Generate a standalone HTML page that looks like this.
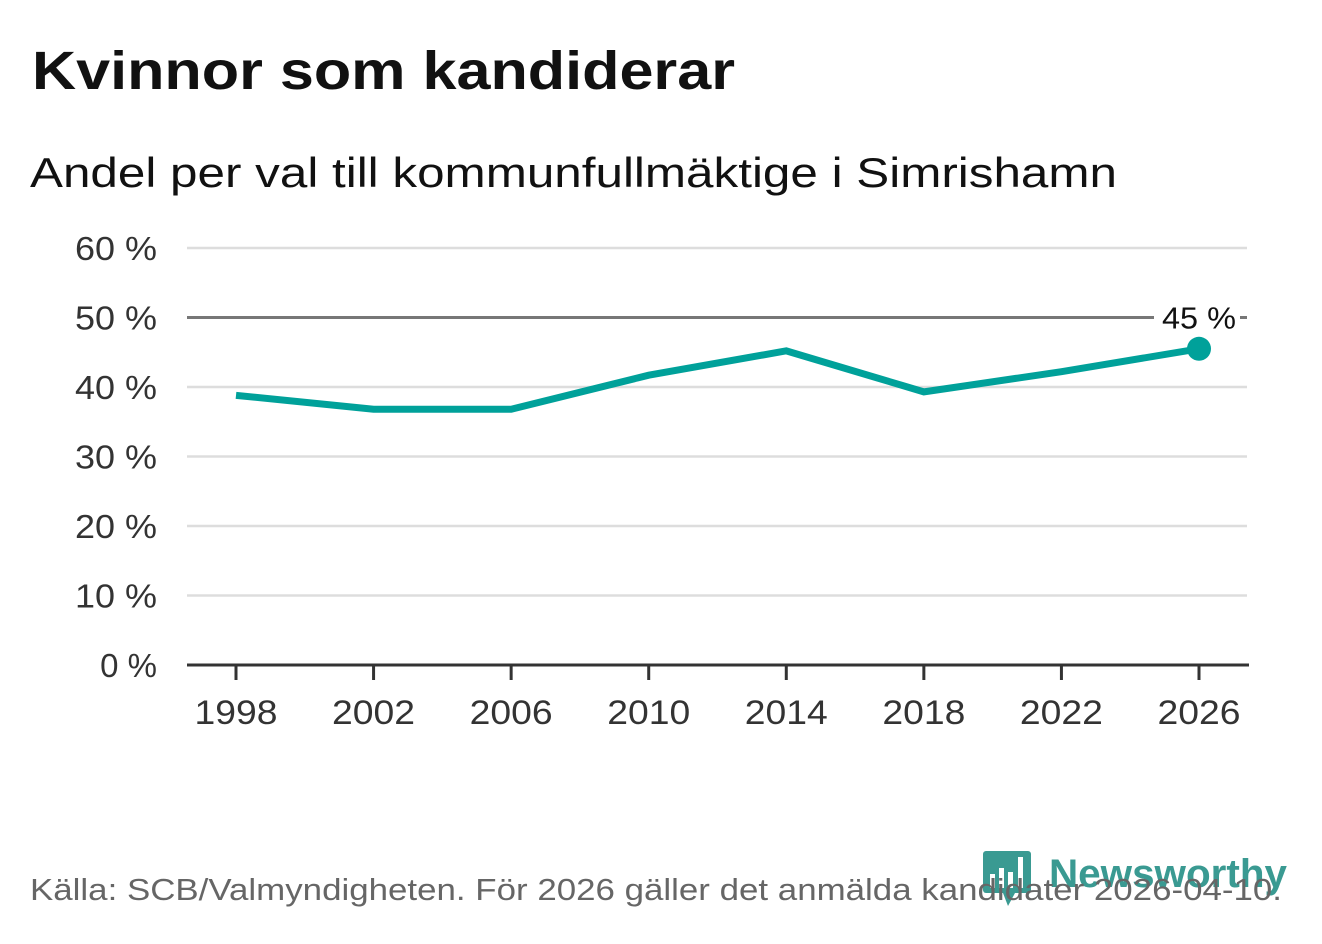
<!DOCTYPE html>
<html><head><meta charset="utf-8"><style>
body{margin:0;background:#fff;width:1322px;height:939px;overflow:hidden;font-family:"Liberation Sans","DejaVu Sans",sans-serif}
</style></head><body>
<svg width="1322" height="939" xmlns="http://www.w3.org/2000/svg">
<text x="32" y="89" font-size="54" font-weight="bold" fill="#111" textLength="703" lengthAdjust="spacingAndGlyphs">Kvinnor som kandiderar</text>
<text x="30" y="187" font-size="42" fill="#111" textLength="1087" lengthAdjust="spacingAndGlyphs">Andel per val till kommunfullmäktige i Simrishamn</text>
<g id="grid"></g><g id="marks"></g>
<g>
<rect x="983" y="851" width="48" height="42" rx="3" fill="#3a9a92"/>
<path d="M1003 893 L1015 893 L1008 906 Z" fill="#3a9a92"/>
<rect x="990" y="874" width="5" height="14" fill="#fff"/><rect x="999" y="868" width="5" height="20" fill="#fff"/><rect x="1008" y="872" width="5" height="16" fill="#fff"/><rect x="1018" y="857" width="5" height="31" fill="#fff"/>
<text x="1049" y="887" font-size="40" font-weight="bold" fill="#3a9a92" textLength="238" lengthAdjust="spacingAndGlyphs">Newsworthy</text>
</g>
<text x="30" y="900" font-size="31" fill="#666" textLength="1252" lengthAdjust="spacingAndGlyphs">Källa: SCB/Valmyndigheten. För 2026 gäller det anmälda kandidater 2026-04-10.</text>
</svg>
<script>
const years=[1998,2002,2006,2010,2014,2018,2022,2026];
const values=[38.8,36.8,36.8,41.7,45.2,39.3,42.2,45.5];
const yTicks=[0,10,20,30,40,50,60];
const yTickLabels=["0 %","10 %","20 %","30 %","40 %","50 %","60 %"];
const endLabel="45 %";
const NS="http://www.w3.org/2000/svg";
const x=v=>236+(v-1998)*(1199-236)/28;
const y=v=>665-v*(665-248)/60;
function mk(t,a,p,txt){const e=document.createElementNS(NS,t);for(const k in a)e.setAttribute(k,a[k]);if(txt!=null)e.textContent=txt;p.appendChild(e);return e;}
const g=document.getElementById('grid'),m=document.getElementById('marks');
yTicks.forEach((t,i)=>{
 if(t>0){const l=mk('line',{x1:187,x2:1247,y1:y(t),y2:y(t),stroke:t===50?'#777':'#ddd','stroke-width':t===50?3:2.5},g);
 
 }
 const a={x:157,y:y(t)+12,'text-anchor':'end','font-size':33,fill:'#333'};
 if(t>0){a.textLength=82;a.lengthAdjust='spacingAndGlyphs';}
 const tx=mk('text',a,g,yTickLabels[i]);
 
 
});
const ax=mk('line',{x1:187,x2:1249,y1:665,y2:665,stroke:'#333','stroke-width':3},g);


years.forEach(yr=>{
 const tk=mk('line',{x1:x(yr),x2:x(yr),y1:665,y2:680,stroke:'#333','stroke-width':3},g);
 
 
 const tl=mk('text',{x:x(yr),y:724,'text-anchor':'middle','font-size':34,fill:'#333',textLength:83,lengthAdjust:'spacingAndGlyphs'},g,yr);
 
 
});
const path=mk('polyline',{points:years.map((yr,i)=>x(yr)+','+y(values[i])).join(' '),fill:'none',stroke:'#00a19a','stroke-width':7,'stroke-linejoin':'miter'},m);


const n=years.length-1;
const dot=mk('circle',{cx:x(years[n]),cy:y(values[n]),r:12,fill:'#00a19a'},m);


const bg=mk('rect',{x:x(years[n])-45,y:y(50)-18,width:86,height:34,fill:'#fff'},m);


const el=mk('text',{x:x(years[n]),y:y(50)+11,'text-anchor':'middle','font-size':31,fill:'#111',textLength:74,lengthAdjust:'spacingAndGlyphs'},m,endLabel);


</script>
</body></html>
